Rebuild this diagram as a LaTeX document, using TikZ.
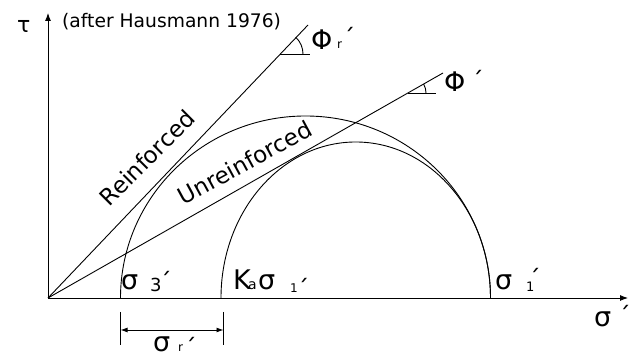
\documentclass[tikz,border=0pt]{standalone}
\usepackage{fontspec}
\setmainfont{DejaVu Sans}
\usetikzlibrary{arrows.meta}
\newcommand\myprime{\raisebox{-16.8pt}[2pt][2pt]{´}}
\begin{document}
\begin{tikzpicture}[x=1pt,y=1pt,
  ln/.style={line width=0.9pt},
  big/.style={font=\fontsize{27}{27}\selectfont, inner sep=0pt, anchor=base west},
  subs/.style={font=\fontsize{#1}{#1}\selectfont, inner sep=0pt, anchor=base west},
  prm/.style={font=\fontsize{24}{24}\selectfont, inner sep=0pt, anchor=center},
  axtip/.style={-{Latex[length=8pt,width=6pt]}},
  envlabel/.style={font=\fontsize{23}{23}\selectfont, inner sep=0pt, anchor=base}
]
\useasboundingbox (0,0) rectangle (638,358);
% axes
\coordinate (O) at (48,60);
\coordinate (Ytop) at (48,345);
\coordinate (Xend) at (628,60);
\draw[ln, axtip] (O) -- (Ytop);
\draw[ln, axtip] (O) -- (Xend);
% Mohr circles
\coordinate (S3) at (120.5,60);
\coordinate (KS) at (221,60);
\draw[ln] (S3) arc[start angle=180, end angle=0, x radius=185, y radius=182];
\draw[ln] (KS) arc[start angle=180, end angle=0, x radius=134.75, y radius=156];
% failure envelopes
\coordinate (R) at (308,333);
\coordinate (U) at (443,285);
\draw[ln] (O) -- (R);
\draw[ln] (O) -- (U);
\node[envlabel, rotate=45] (reinf) at (153,194) {Reinforced};
\node[envlabel, rotate=28.5] (unreinf) at (249,188) {Unreinforced};
% angle markers
\coordinate (RA) at (280,304);
\coordinate (RAe) at (310,304);
\draw[ln] (RA) -- (RAe);
\draw[ln] (RA) ++(23,0) arc[start angle=0, end angle=46.4, radius=23];
\coordinate (UA) at (408,265);
\coordinate (UAe) at (436,265);
\draw[ln] (UA) -- (UAe);
\draw[ln] (UA) ++(18,0) arc[start angle=0, end angle=29.7, radius=18];
% dimension sigma_r
\coordinate (T1a) at (120.5,46);
\coordinate (T1b) at (120.5,13);
\coordinate (T2a) at (223.5,46);
\coordinate (T2b) at (223.5,13);
\draw[ln] (T1a) -- (T1b);
\draw[ln] (T2a) -- (T2b);
\coordinate (D1) at (120.5,28);
\coordinate (D2) at (223.5,28);
\draw[ln, {Latex[length=7pt,width=5pt]}-{Latex[length=7pt,width=5pt]}] (D1) -- (D2);
% texts
\node[subs=22] (tau) at (17,325) {τ};
\node[subs=18.7] (after) at (62,330) {(after Hausmann 1976)};
% Phi_r'
\node[big] (phir) at (311,308) {Φ};
\node[subs=12] (phirs) at (337,309) {r};
\node[prm] (phirp) at (349,328.5) {\myprime};
% Phi'
\node[big] (phi) at (444,266) {Φ};
\node[prm] (phip) at (477.5,285.5) {\myprime};
% sigma_3'
\node[big] (s3) at (121,68) {σ};
\node[subs=18] (s3s) at (150,66) {3};
\node[prm] (s3p) at (165.5,84.5) {\myprime};
% K_a sigma_1'
\node[big] (ka) at (233,68) {K};
\node[subs=14] (kas) at (248,68) {a};
\node[big] (kasig) at (258,68) {σ};
\node[subs=12] (kasigs) at (290,65) {1};
\node[prm] (kap) at (303,77.5) {\myprime};
% sigma_1'
\node[big] (s1) at (495,68) {σ};
\node[subs=13] (s1s) at (526,66) {1};
\node[prm] (s1p) at (534.5,87) {\myprime};
% sigma' axis
\node[big] (sx) at (594,31) {σ};
\node[prm] (sxp) at (624.5,50.5) {\myprime};
% sigma_r'
\node[big] (sr) at (153,6) {σ};
\node[subs=12] (srs) at (178,6.5) {r};
\node[prm] (srp) at (190.5,18.5) {\myprime};
\end{tikzpicture}
\end{document}
